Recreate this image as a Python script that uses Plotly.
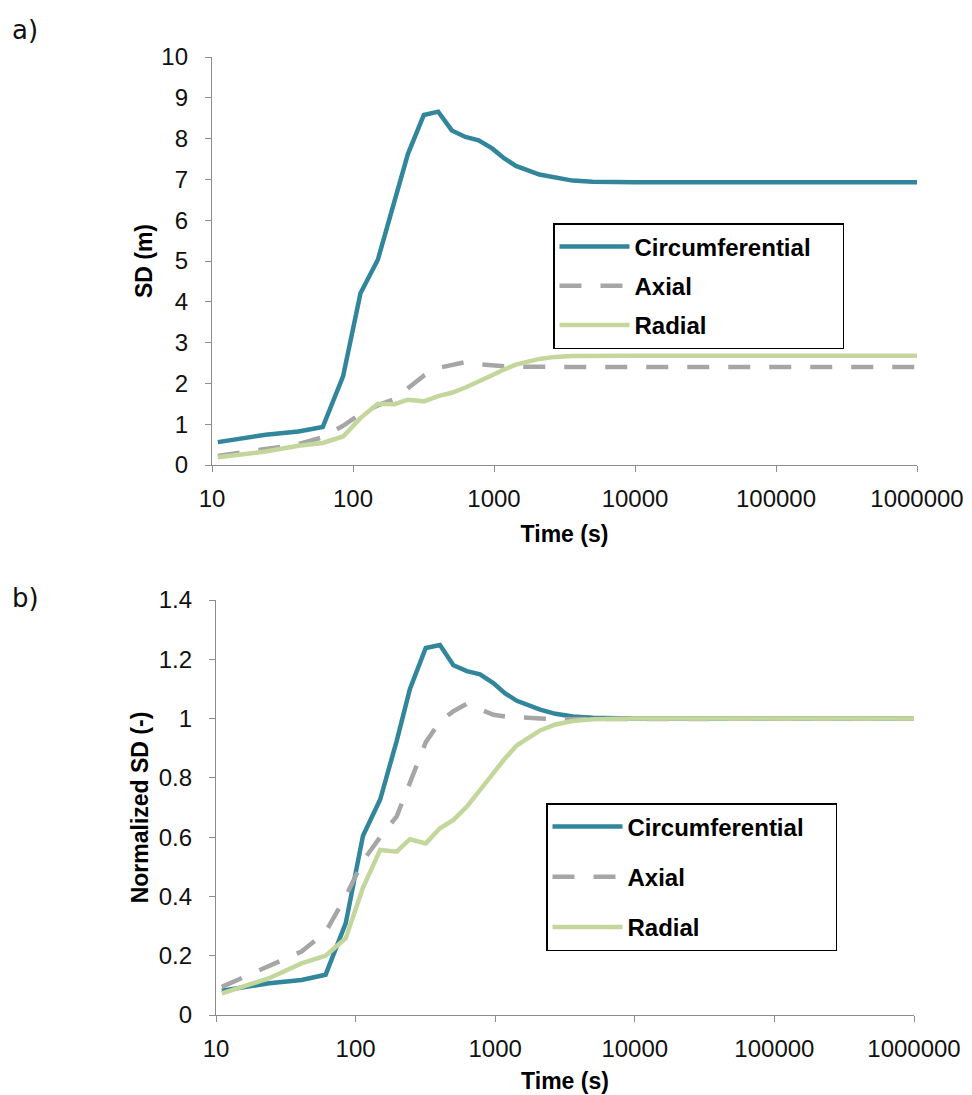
import plotly.graph_objects as go

# ---- data ----
time_s = [11, 24, 41, 61, 85, 113, 150, 197, 245, 318, 402, 502, 627, 778, 970,
          1178, 1430, 2100, 2700, 3600, 5000, 10000, 100000, 1000000]

sd_circ = [0.56, 0.74, 0.82, 0.93, 2.17, 4.21, 5.03, 6.42, 7.62, 8.58, 8.66, 8.20,
           8.04, 7.96, 7.76, 7.52, 7.33, 7.12, 7.04, 6.97, 6.94, 6.93, 6.93, 6.93]
sd_axial = [0.22, 0.40, 0.51, 0.68, 0.96, 1.25, 1.46, 1.62, 1.87, 2.19, 2.38, 2.46,
            2.52, 2.47, 2.43, 2.42, 2.41, 2.40, 2.40, 2.40, 2.40, 2.40, 2.40, 2.40]
sd_radial = [0.19, 0.33, 0.47, 0.54, 0.70, 1.15, 1.50, 1.49, 1.60, 1.56, 1.69, 1.77,
             1.90, 2.04, 2.20, 2.34, 2.46, 2.60, 2.65, 2.67, 2.68, 2.68, 2.68, 2.68]

norm_circ = [0.082, 0.107, 0.118, 0.136, 0.31, 0.605, 0.727, 0.925, 1.10, 1.238,
             1.248, 1.18, 1.16, 1.149, 1.12, 1.085, 1.06, 1.03, 1.016, 1.007, 1.003,
             1.0, 1.0, 1.0]
norm_axial = [0.095, 0.165, 0.214, 0.28, 0.40, 0.52, 0.60, 0.67, 0.78, 0.92, 0.99,
              1.025, 1.05, 1.03, 1.013, 1.007, 1.004, 1.0, 0.998, 0.998, 1.0, 1.0,
              1.0, 1.0]
norm_radial = [0.073, 0.124, 0.174, 0.20, 0.259, 0.43, 0.557, 0.551, 0.593, 0.579,
               0.63, 0.658, 0.703, 0.76, 0.82, 0.866, 0.91, 0.96, 0.98, 0.992, 0.998,
               1.0, 1.0, 1.0]

series_names = ["Circumferential", "Axial", "Radial"]
x_tickvals = [10, 100, 1000, 10000, 100000, 1000000]
x_ticktext = ["10", "100", "1000", "10000", "100000", "1000000"]

# ---- styles ----
colors = ["#31869B", "#A6A6A6", "#C3D69B"]
dashes = ["solid", "22px,19px", "solid"]
W, H = 972, 1095
FONT = "Liberation Sans, Arial, sans-serif"
AX_COL = "#8C8C8C"
PAD = "\u00a0\u00a0\u00a0\u00a0"

fig = go.Figure()

top = [sd_circ, sd_axial, sd_radial]
bot = [norm_circ, norm_axial, norm_radial]
for i, name in enumerate(series_names):
    fig.add_trace(go.Scatter(
        x=time_s, y=top[i], mode="lines", name=name + PAD,
        line=dict(color=colors[i], width=4.5, dash=dashes[i]),
        xaxis="x", yaxis="y", legend="legend", legendgroup="a" + str(i)))
for i, name in enumerate(series_names):
    fig.add_trace(go.Scatter(
        x=time_s, y=bot[i], mode="lines", name=name + PAD,
        line=dict(color=colors[i], width=4.5, dash=dashes[i]),
        xaxis="x2", yaxis="y2", legend="legend2", legendgroup="b" + str(i)))

def px_x(p):
    return p / W

def px_y(p):
    return 1 - p / H

xcommon = dict(type="log", range=[1, 6], tickvals=x_tickvals, ticktext=x_ticktext,
               showline=True, linecolor=AX_COL, linewidth=1.3, ticks="outside",
               ticklen=6, tickcolor=AX_COL, tickwidth=1.3, showgrid=False,
               zeroline=False, automargin=False,
               tickfont=dict(family=FONT, size=24, color="#111"),
               title_font=dict(family=FONT, size=23, color="#000"),
               ticklabelstandoff=6)
ycommon = dict(showline=True, linecolor=AX_COL, linewidth=1.3, ticks="outside",
               ticklen=6, tickcolor=AX_COL, tickwidth=1.3, showgrid=False,
               zeroline=False, automargin=False,
               tickfont=dict(family=FONT, size=24, color="#111"),
               title_font=dict(family=FONT, size=23, color="#000"),
               ticklabelstandoff=12)

fig.update_layout(
    width=W, height=H,
    margin=dict(l=0, r=0, t=0, b=0, autoexpand=False),
    paper_bgcolor="white", plot_bgcolor="white",
    xaxis=dict(xcommon, domain=[px_x(212), px_x(917)], anchor="y",
               title=dict(text="<b>Time (s)</b>", standoff=14)),
    yaxis=dict(ycommon, domain=[px_y(465), px_y(57)], anchor="x", range=[0, 10],
               dtick=1, title=dict(text="<b>SD (m)</b>", standoff=2)),
    xaxis2=dict(xcommon, domain=[px_x(216), px_x(914)], anchor="y2",
                title=dict(text="<b>Time (s)</b>", standoff=11)),
    yaxis2=dict(ycommon, domain=[px_y(1015), px_y(600)], anchor="x2",
                range=[0, 1.4], dtick=0.2,
                title=dict(text="<b>Normalized SD (-)</b>", standoff=3)),
    legend=dict(x=px_x(553), y=px_y(223), xanchor="left", yanchor="top",
                bordercolor="#000", borderwidth=1.5, bgcolor="white",
                font=dict(family=FONT, size=24, color="#000", weight="bold"),
                tracegroupgap=5, itemwidth=70),
    legend2=dict(x=px_x(546), y=px_y(803), xanchor="left", yanchor="top",
                 bordercolor="#000", borderwidth=1.5, bgcolor="white",
                 font=dict(family=FONT, size=24, color="#000", weight="bold"),
                 tracegroupgap=16, itemwidth=70),
    annotations=[
        dict(text="a)", x=px_x(10), y=px_y(30), xref="paper", yref="paper",
             xanchor="left", yanchor="middle", showarrow=False,
             font=dict(family="DejaVu Sans", size=26, color="#111")),
        dict(text="b)", x=px_x(10), y=px_y(598), xref="paper", yref="paper",
             xanchor="left", yanchor="middle", showarrow=False,
             font=dict(family="DejaVu Sans", size=26, color="#111")),
    ],
)

fig.write_html("out.html")
